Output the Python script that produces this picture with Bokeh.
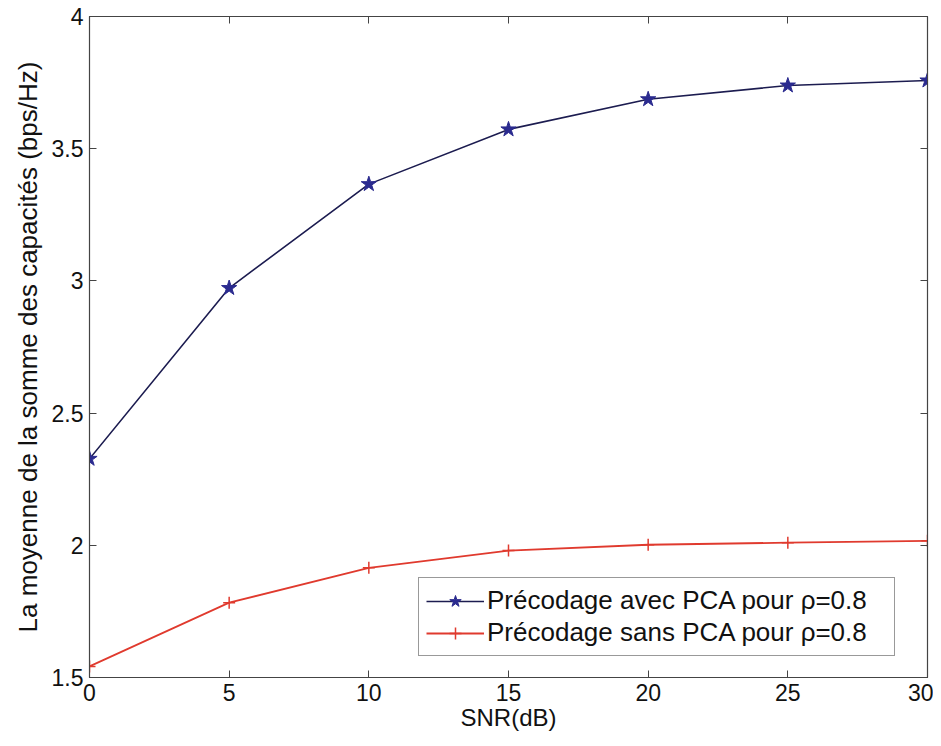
from bokeh.plotting import figure
from bokeh.models import LinearAxis, Range1d, FixedTicker, Legend, LegendItem
from bokeh.embed import file_html
from bokeh.resources import INLINE

snr = [0, 5, 10, 15, 20, 25, 30]
avec_pca = [2.327, 2.973, 3.366, 3.573, 3.687, 3.739, 3.758]
sans_pca = [1.542, 1.783, 1.915, 1.980, 2.002, 2.010, 2.017]
x_ticks = [0, 5, 10, 15, 20, 25, 30]
y_ticks = [1.5, 2, 2.5, 3, 3.5, 4]
label_avec = "Précodage avec PCA pour ρ=0.8"
label_sans = "Précodage sans PCA pour ρ=0.8"

FONT = "Liberation Sans"

p = figure(width=933, height=733, output_backend="svg", toolbar_location=None,
           x_range=Range1d(0, 30), y_range=Range1d(1.5, 4),
           min_border_left=89, min_border_right=6, min_border_top=16, min_border_bottom=55)
p.xgrid.visible = False
p.ygrid.visible = False
p.outline_line_color = "#444444"
p.outline_line_width = 1.2

def style_axis(ax, ticks, labels=True):
    ax.ticker = FixedTicker(ticks=ticks)
    ax.major_tick_in = 7
    ax.major_tick_out = 0
    ax.minor_tick_in = 0
    ax.minor_tick_out = 0
    ax.axis_line_color = "#444444"
    ax.major_tick_line_color = "#444444"
    ax.major_label_text_font = FONT
    ax.major_label_text_color = "#111111"
    ax.major_label_text_font_size = "23px"
    if labels:
        ax.major_label_standoff = 6
    else:
        ax.major_label_standoff = 0
        ax.major_label_overrides = {t: "" for t in ticks}

style_axis(p.xaxis[0], x_ticks)
style_axis(p.yaxis[0], y_ticks)
p.xaxis[0].axis_label = "SNR(dB)"
p.yaxis[0].axis_label = "La moyenne de la somme des capacités (bps/Hz)"
for ax in (p.xaxis[0], p.yaxis[0]):
    ax.axis_label_text_font = FONT
    ax.axis_label_text_font_style = "normal"
    ax.axis_label_text_color = "#111111"
p.xaxis[0].axis_label_text_font_size = "24px"
p.yaxis[0].axis_label_text_font_size = "26px"
p.xaxis[0].axis_label_standoff = 0
p.yaxis[0].axis_label_standoff = 6

top = LinearAxis()
style_axis(top, x_ticks, labels=False)
right = LinearAxis()
style_axis(right, y_ticks, labels=False)
p.add_layout(top, "above")
p.add_layout(right, "right")

blue_line = "#1c1c50"
blue_mark = "#2b2b8f"
red = "#e03a2e"

l1 = p.line(snr, avec_pca, line_color=blue_line, line_width=1.6)
m1 = p.scatter(snr, avec_pca, marker="star", size=16, fill_color=blue_mark, line_color=blue_mark)
l2 = p.line(snr, sans_pca, line_color=red, line_width=1.8)
m2 = p.scatter(snr, sans_pca, marker="cross", size=12, line_color=red, line_width=1.5)

legend = Legend(items=[LegendItem(label=label_avec, renderers=[l1, m1]),
                       LegendItem(label=label_sans, renderers=[l2, m2])],
                location=(329, 21))
legend.label_text_font = FONT
legend.label_text_font_size = "26px"
legend.label_text_color = "#111111"
legend.border_line_color = "#333333"
legend.border_line_width = 1
legend.glyph_width = 58
legend.glyph_height = 30
legend.label_height = 30
legend.label_width = 400
legend.label_standoff = 3
legend.spacing = 1
legend.padding = 7
legend.margin = 0
legend.background_fill_alpha = 1
p.add_layout(legend, "center")

open("out.html", "w").write(file_html(p, INLINE))
